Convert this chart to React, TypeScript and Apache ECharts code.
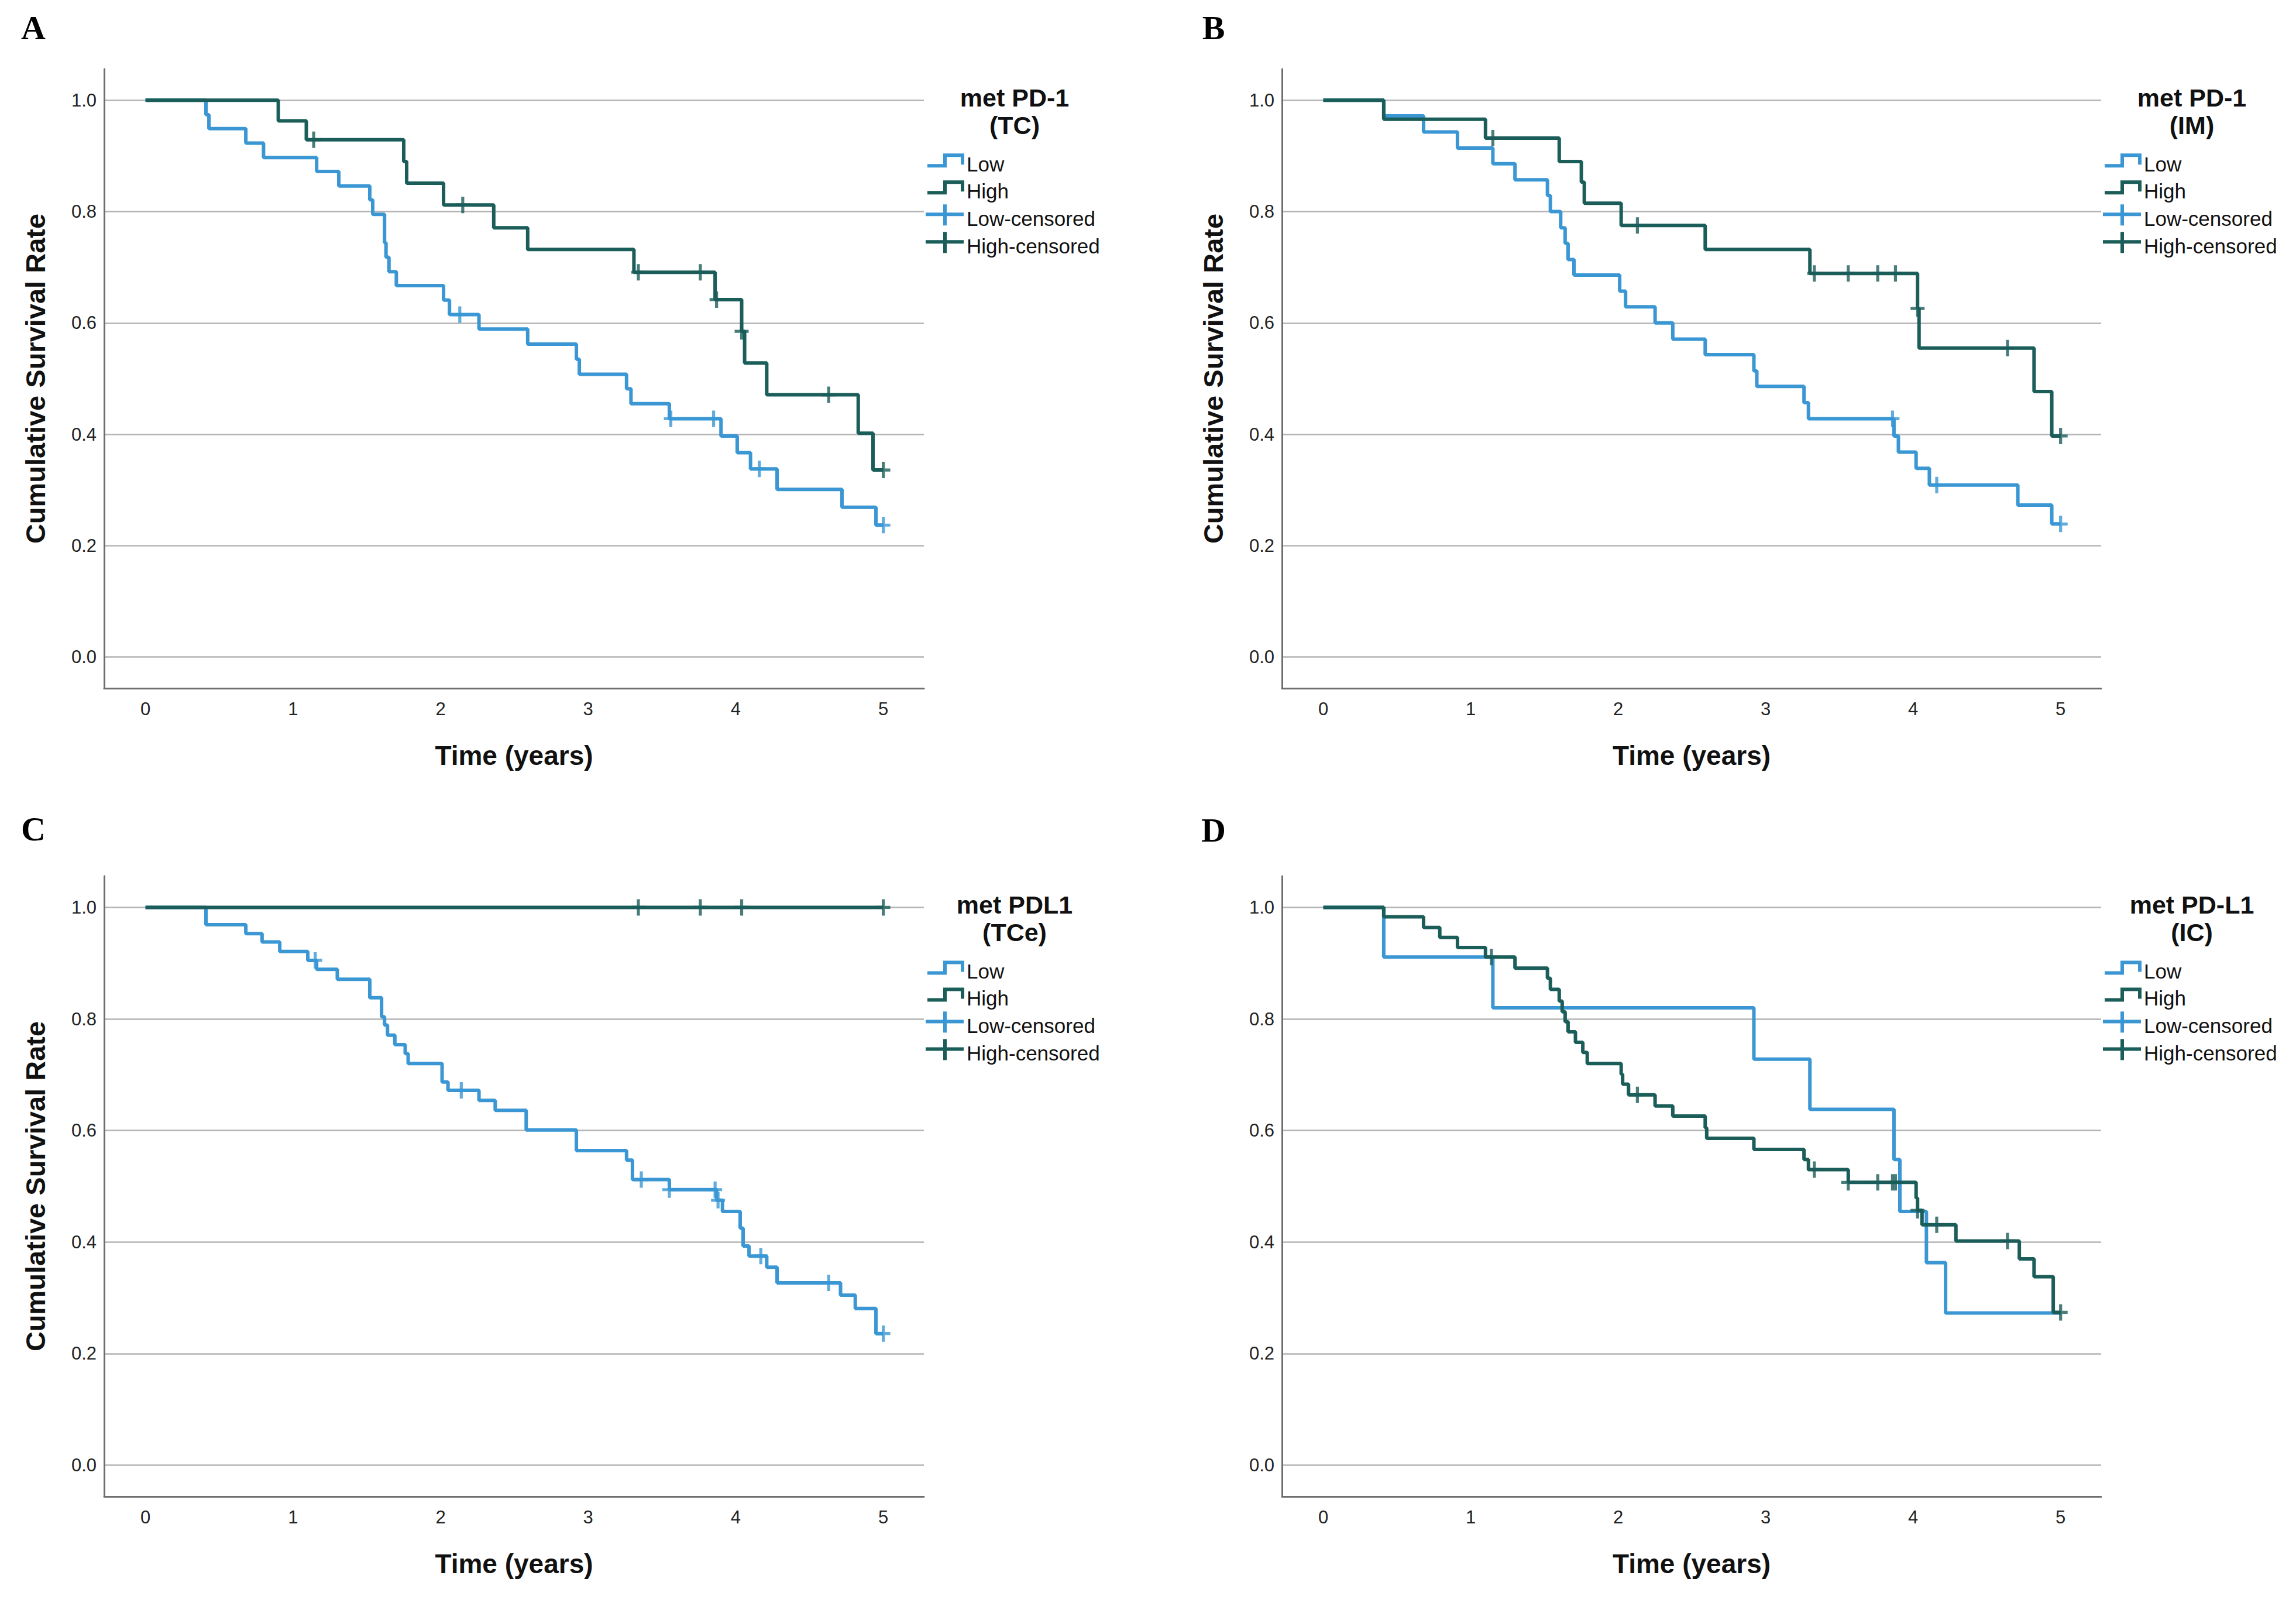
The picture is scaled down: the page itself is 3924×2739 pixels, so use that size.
import React, { useEffect, useRef } from 'react';
import * as echarts from 'echarts';

// ---------------- DATA ----------------
const panelLetters = ['A', 'B', 'C', 'D'];
const legendTitles = [
  ['met PD-1', '(TC)'],
  ['met PD-1', '(IM)'],
  ['met PDL1', '(TCe)'],
  ['met PD-L1', '(IC)'],
];
const legendLabels = ['Low', 'High', 'Low-censored', 'High-censored'];
const xAxisTitle = 'Time (years)';
const yAxisTitle = 'Cumulative Survival Rate';
const yTitleShown = [true, true, true, false];
const endTime = 5;

// events: [time (years), cumulative survival after event]
const aLowEvents = [
  [0.41, 0.974], [0.43, 0.949], [0.68, 0.923], [0.80, 0.897], [1.16, 0.872], [1.31, 0.846],
  [1.52, 0.821], [1.54, 0.795], [1.62, 0.744], [1.63, 0.718], [1.65, 0.692], [1.70, 0.667],
  [2.02, 0.641], [2.06, 0.615], [2.26, 0.589], [2.59, 0.562], [2.92, 0.535], [2.94, 0.508],
  [3.26, 0.482], [3.29, 0.455], [3.55, 0.428], [3.90, 0.397], [4.01, 0.367], [4.10, 0.338],
  [4.28, 0.301], [4.72, 0.269], [4.95, 0.237],
];
const aLowCensor = [2.13, 3.56, 3.85, 4.16, 5.0];
const aHighEvents = [
  [0.90, 0.963], [1.09, 0.929], [1.75, 0.890], [1.77, 0.851], [2.02, 0.812], [2.36, 0.771],
  [2.59, 0.732], [3.31, 0.691], [3.86, 0.642], [4.04, 0.585], [4.06, 0.528], [4.21, 0.471],
  [4.83, 0.402], [4.93, 0.336],
];
const aHighCensor = [1.14, 2.15, 3.34, 3.76, 3.87, 4.04, 4.63, 5.0];

const bLowEvents = [
  [0.41, 0.972], [0.68, 0.943], [0.91, 0.914], [1.15, 0.886], [1.30, 0.857], [1.52, 0.829],
  [1.54, 0.800], [1.61, 0.771], [1.64, 0.743], [1.66, 0.714], [1.70, 0.686], [2.01, 0.657],
  [2.05, 0.629], [2.25, 0.600], [2.37, 0.571], [2.59, 0.543], [2.92, 0.514], [2.94, 0.486],
  [3.26, 0.457], [3.29, 0.428], [3.87, 0.397], [3.90, 0.368], [4.02, 0.339], [4.11, 0.309],
  [4.71, 0.273], [4.94, 0.239],
];
const bLowCensor = [3.86, 4.16, 5.0];
const bHighEvents = [
  [0.41, 0.966], [1.10, 0.932], [1.60, 0.890], [1.75, 0.853], [1.77, 0.815], [2.02, 0.775],
  [2.59, 0.732], [3.30, 0.689], [4.03, 0.626], [4.04, 0.555], [4.82, 0.477], [4.94, 0.397],
];
const bHighCensor = [1.15, 2.13, 3.33, 3.56, 3.76, 3.88, 4.03, 4.64, 5.0];

const cLowEvents = [
  [0.41, 0.969], [0.68, 0.953], [0.79, 0.938], [0.91, 0.921], [1.10, 0.905], [1.16, 0.889],
  [1.30, 0.871], [1.52, 0.838], [1.60, 0.804], [1.62, 0.789], [1.64, 0.771], [1.69, 0.754],
  [1.76, 0.738], [1.78, 0.720], [2.01, 0.687], [2.05, 0.672], [2.26, 0.654], [2.37, 0.636],
  [2.58, 0.601], [2.92, 0.564], [3.26, 0.547], [3.30, 0.512], [3.55, 0.494], [3.87, 0.475],
  [3.91, 0.455], [4.03, 0.425], [4.05, 0.393], [4.09, 0.375], [4.21, 0.355], [4.28, 0.327],
  [4.71, 0.305], [4.81, 0.281], [4.95, 0.236],
];
const cLowCensor = [1.15, 2.14, 3.36, 3.55, 3.86, 3.88, 4.17, 4.63, 5.0];
const cHighEvents: number[][] = [];
const cHighCensor = [3.34, 3.76, 4.04, 5.0];

const dLowEvents = [
  [0.41, 0.911], [1.15, 0.820], [2.92, 0.728], [3.30, 0.638], [3.87, 0.548], [3.91, 0.455],
  [4.09, 0.363], [4.22, 0.273],
];
const dLowCensor: number[] = [];
const dHighEvents = [
  [0.41, 0.983], [0.68, 0.964], [0.79, 0.946], [0.91, 0.928], [1.10, 0.911], [1.30, 0.891],
  [1.52, 0.873], [1.54, 0.853], [1.60, 0.832], [1.62, 0.813], [1.64, 0.795], [1.66, 0.777],
  [1.71, 0.758], [1.76, 0.740], [1.79, 0.720], [2.02, 0.701], [2.03, 0.683], [2.07, 0.664],
  [2.25, 0.644], [2.37, 0.626], [2.59, 0.605], [2.60, 0.586], [2.92, 0.566], [3.26, 0.548],
  [3.29, 0.530], [3.56, 0.507], [4.02, 0.479], [4.03, 0.457], [4.06, 0.431], [4.29, 0.402],
  [4.72, 0.370], [4.82, 0.338], [4.95, 0.274],
];
const dHighCensor = [1.14, 2.13, 3.33, 3.56, 3.76, 3.86, 3.88, 4.03, 4.16, 4.64, 5.0];

const panelLow = [aLowEvents, bLowEvents, cLowEvents, dLowEvents];
const panelLowCensor = [aLowCensor, bLowCensor, cLowCensor, dLowCensor];
const panelHigh = [aHighEvents, bHighEvents, cHighEvents, dHighEvents];
const panelHighCensor = [aHighCensor, bHighCensor, cHighCensor, dHighCensor];

// ---------------- STYLE / LAYOUT ----------------
const LOW = '#3a97d4';
const HIGH = '#1a5d59';
const W = 3924;
const H = 2739;
const grids = [
  { left: 178, top: 118, width: 1401, height: 1058 },
  { left: 2191, top: 118, width: 1400, height: 1058 },
  { left: 178, top: 1497, width: 1401, height: 1060 },
  { left: 2191, top: 1497, width: 1400, height: 1060 },
];
const letterPos = [
  [57, 47],
  [2074, 47],
  [57, 1416],
  [2074, 1418],
];
const X_MIN = -0.28;
const X_MAX = 5.275;
const Y_MIN = -0.056;
const Y_MAX = 1.056;
const CROSS = 'path://M9,0L14,0L14,11L23,11L23,16L14,16L14,27L9,27L9,16L0,16L0,11L9,11Z';

function curve(events: number[][]) {
  const pts: number[][] = [[0, 1]];
  events.forEach((e) => pts.push([e[0], e[1]]));
  const last = pts[pts.length - 1][1];
  pts.push([endTime, last]);
  return pts;
}
function survAt(events: number[][], t: number) {
  let s = 1;
  for (const e of events) if (e[0] <= t + 1e-9) s = e[1];
  return s;
}

function buildOption() {
  const series: any[] = [];
  const xAxis: any[] = [];
  const yAxis: any[] = [];
  const graphic: any[] = [];
  const labelFont = 'Liberation Sans';
  grids.forEach((g, i) => {
    xAxis.push({
      gridIndex: i,
      type: 'value',
      min: X_MIN,
      max: X_MAX,
      minInterval: 1,
      maxInterval: 1,
      splitNumber: 5,
      axisLine: { onZero: false, lineStyle: { color: '#6e6e6e', width: 3 } },
      axisTick: { show: false },
      splitLine: { show: false },
      axisLabel: {
        showMinLabel: false,
        showMaxLabel: false,
        margin: 20,
        fontSize: 31,
        fontFamily: labelFont,
        color: '#222',
        formatter: (v: number) => (Math.abs(v - Math.round(v)) < 1e-6 && v >= 0 && v <= 5 ? String(Math.round(v)) : ''),
      },
      name: xAxisTitle,
      nameLocation: 'middle',
      nameGap: 92,
      nameTextStyle: { fontSize: 46, fontWeight: 'bold', fontFamily: labelFont, color: '#111' },
    });
    yAxis.push({
      gridIndex: i,
      type: 'value',
      min: Y_MIN,
      max: Y_MAX,
      minInterval: 0.2,
      maxInterval: 0.2,
      splitNumber: 5,
      axisLine: { show: true, onZero: false, lineStyle: { color: '#6e6e6e', width: 3 } },
      axisTick: { show: false },
      splitLine: { show: true, showMinLine: false, showMaxLine: false, lineStyle: { color: '#b4b4b4', width: 2.5 } },
      axisLabel: {
        showMinLabel: false,
        showMaxLabel: false,
        margin: 13,
        fontSize: 31,
        fontFamily: labelFont,
        color: '#222',
        formatter: (v: number) => (v >= -1e-6 && v <= 1 + 1e-6 ? v.toFixed(1) : ''),
      },
      name: yTitleShown[i] ? yAxisTitle : '',
      nameLocation: 'middle',
      nameGap: 94,
      nameTextStyle: { fontSize: 47, fontWeight: 'bold', fontFamily: labelFont, color: '#111' },
    });

    const low = panelLow[i];
    const high = panelHigh[i];
    series.push({
      type: 'line', name: 'Low', step: 'end', xAxisIndex: i, yAxisIndex: i,
      data: curve(low), symbol: 'none', z: 2,
      lineStyle: { color: LOW, width: 6 }, itemStyle: { color: LOW },
    });
    series.push({
      type: 'line', name: 'High', step: 'end', xAxisIndex: i, yAxisIndex: i,
      data: curve(high), symbol: 'none', z: 3,
      lineStyle: { color: HIGH, width: 6 }, itemStyle: { color: HIGH },
    });
    series.push({
      type: 'scatter', name: 'Low-censored', xAxisIndex: i, yAxisIndex: i,
      data: panelLowCensor[i].map((t) => [t, survAt(low, t)]),
      symbol: CROSS, symbolSize: [24, 28], z: 4, itemStyle: { color: LOW },
    });
    series.push({
      type: 'scatter', name: 'High-censored', xAxisIndex: i, yAxisIndex: i,
      data: panelHighCensor[i].map((t) => [t, survAt(high, t)]),
      symbol: CROSS, symbolSize: [24, 28], z: 5, itemStyle: { color: HIGH },
    });

    // panel letter
    graphic.push({
      type: 'text', x: letterPos[i][0], y: letterPos[i][1],
      style: { text: panelLetters[i], fontFamily: 'Liberation Serif', fontWeight: 'bold', fontSize: 58, fill: '#000', align: 'center', verticalAlign: 'middle' },
    });

    // legend
    const R = g.left + g.width;
    const Y1 = g.top + ((Y_MAX - 1) / (Y_MAX - Y_MIN)) * g.height;
    const tx = R + 155;
    graphic.push({
      type: 'text', x: tx, y: Y1 - 4,
      style: { text: legendTitles[i][0], fontFamily: 'Liberation Sans', fontWeight: 'bold', fontSize: 43, fill: '#111', align: 'center', verticalAlign: 'middle' },
    });
    graphic.push({
      type: 'text', x: tx, y: Y1 + 43,
      style: { text: legendTitles[i][1], fontFamily: 'Liberation Sans', fontWeight: 'bold', fontSize: 43, fill: '#111', align: 'center', verticalAlign: 'middle' },
    });
    const rows = [109, 155, 202, 249];
    const colors = [LOW, HIGH, LOW, HIGH];
    rows.forEach((dy, k) => {
      const yc = Y1 + dy;
      if (k < 2) {
        graphic.push({
          type: 'polyline',
          shape: { points: [[R + 6, yc + 3], [R + 36, yc + 3], [R + 36, yc - 15], [R + 66, yc - 15], [R + 66, yc + 1]] },
          style: { stroke: colors[k], lineWidth: 6, fill: null },
        });
      } else {
        graphic.push({
          type: 'line', shape: { x1: R + 3, y1: yc - 7, x2: R + 68, y2: yc - 7 },
          style: { stroke: colors[k], lineWidth: 6 },
        });
        graphic.push({
          type: 'line', shape: { x1: R + 36, y1: yc - 24, x2: R + 36, y2: yc + 12 },
          style: { stroke: colors[k], lineWidth: 6 },
        });
      }
      graphic.push({
        type: 'text', x: R + 73, y: yc,
        style: { text: legendLabels[k], fontFamily: 'Liberation Sans', fontSize: 35, fill: '#111', align: 'left', verticalAlign: 'middle' },
      });
    });
  });

  return {
    animation: false,
    backgroundColor: '#ffffff',
    grid: grids.map((g) => ({ left: g.left, top: g.top, width: g.width, height: g.height, containLabel: false })),
    xAxis,
    yAxis,
    series,
    graphic,
  };
}

export default function App() {
  const ref = useRef<HTMLDivElement>(null);
  useEffect(() => {
    document.body.style.margin = '0';
    if (!ref.current) return;
    const chart = echarts.init(ref.current, undefined, { renderer: 'svg' });
    chart.setOption(buildOption() as any);
    return () => chart.dispose();
  }, []);
  return <div ref={ref} style={{ width: W, height: H, background: '#fff' }} />;
}
